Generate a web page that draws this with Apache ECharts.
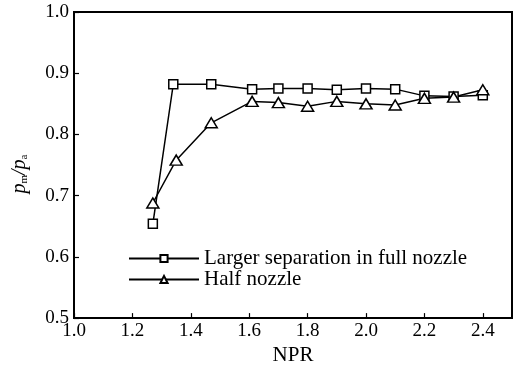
<!DOCTYPE html>
<html>
<head>
<meta charset="utf-8">
<script src="https://cdn.jsdelivr.net/npm/echarts@6/dist/echarts.min.js"></script>
<style>
  html, body { margin: 0; padding: 0; background: #fff; }
  #chart { width: 524px; height: 371px; }
</style>
</head>
<body>
<div id="chart"></div>
<script>
// values
var fullNpr = [1.27, 1.34, 1.47, 1.61, 1.70, 1.80, 1.90, 2.00, 2.10, 2.20, 2.30, 2.40];
var fullRatio = [0.654, 0.882, 0.882, 0.874, 0.875, 0.875, 0.873, 0.875, 0.874, 0.863, 0.862, 0.864];
var halfNpr = [1.27, 1.35, 1.47, 1.61, 1.70, 1.80, 1.90, 2.00, 2.10, 2.20, 2.30, 2.40];
var halfRatio = [0.688, 0.758, 0.819, 0.854, 0.852, 0.846, 0.854, 0.850, 0.848, 0.859, 0.861, 0.873];
var seriesNames = ['Larger separation in full nozzle', 'Half nozzle'];

function pairs(xs, ys) {
  return xs.map(function (x, i) { return [x, ys[i]]; });
}

var font = 'Liberation Serif';
var chart = echarts.init(document.getElementById('chart'), null, { renderer: 'canvas' });

var option = {
  animation: false,
  backgroundColor: '#fff',
  textStyle: { fontFamily: font, color: '#000' },
  grid: {
    left: 74, top: 12, right: 12, bottom: 51,
    show: true, borderColor: '#000', borderWidth: 2
  },
  xAxis: {
    type: 'value',
    min: 1.0, max: 2.5, interval: 0.2,
    name: 'NPR',
    nameLocation: 'middle',
    nameGap: 20,
    nameTextStyle: { fontFamily: font, fontSize: 21, color: '#000', lineHeight: 21 },
    axisLine: { lineStyle: { color: '#000', width: 2 } },
    axisTick: { inside: true, length: 5, lineStyle: { color: '#000', width: 1.2 } },
    axisLabel: {
      fontFamily: font, fontSize: 19, color: '#000', margin: 3,
      showMaxLabel: false,
      formatter: function (v) { return v.toFixed(1); }
    },
    splitLine: { show: false }
  },
  yAxis: {
    type: 'value',
    min: 0.5, max: 1.0, interval: 0.1,
    name: '{i|p}{s|m}{i|/p}{s|a}',
    nameLocation: 'middle',
    nameGap: 44,
    nameRotate: 90,
    nameTextStyle: {
      padding: [0, 18, 0, 0],
      rich: {
        i: { fontFamily: font, fontSize: 20, fontStyle: 'italic', color: '#000' },
        s: { fontFamily: font, fontSize: 11, color: '#000', verticalAlign: 'bottom', padding: [9, 0, 0, 0] }
      }
    },
    axisLine: { lineStyle: { color: '#000', width: 2 } },
    axisTick: { inside: true, length: 5, lineStyle: { color: '#000', width: 1.2 } },
    axisLabel: {
      fontFamily: font, fontSize: 19, color: '#000', margin: 5,
      formatter: function (v) { return v.toFixed(1); }
    },
    splitLine: { show: false }
  },
  legend: {
    orient: 'vertical',
    left: 128, top: 248,
    padding: 0,
    itemWidth: 70, itemHeight: 9, itemGap: 0,
    textStyle: { fontFamily: font, fontSize: 21, lineHeight: 21, color: '#000' },
    data: seriesNames
  },
  series: [
    {
      name: seriesNames[0],
      type: 'line',
      data: pairs(fullNpr, fullRatio),
      symbol: 'rect',
      symbolSize: 9,
      lineStyle: { color: '#000', width: 1.5 },
      itemStyle: { color: '#fff', borderColor: '#000', borderWidth: 1.5 }
    },
    {
      name: seriesNames[1],
      type: 'line',
      data: pairs(halfNpr, halfRatio),
      symbol: 'triangle',
      symbolSize: [12, 10],
      lineStyle: { color: '#000', width: 1.5 },
      itemStyle: { color: '#fff', borderColor: '#000', borderWidth: 1.5 }
    }
  ]
};

chart.setOption(option);
</script>
</body>
</html>
